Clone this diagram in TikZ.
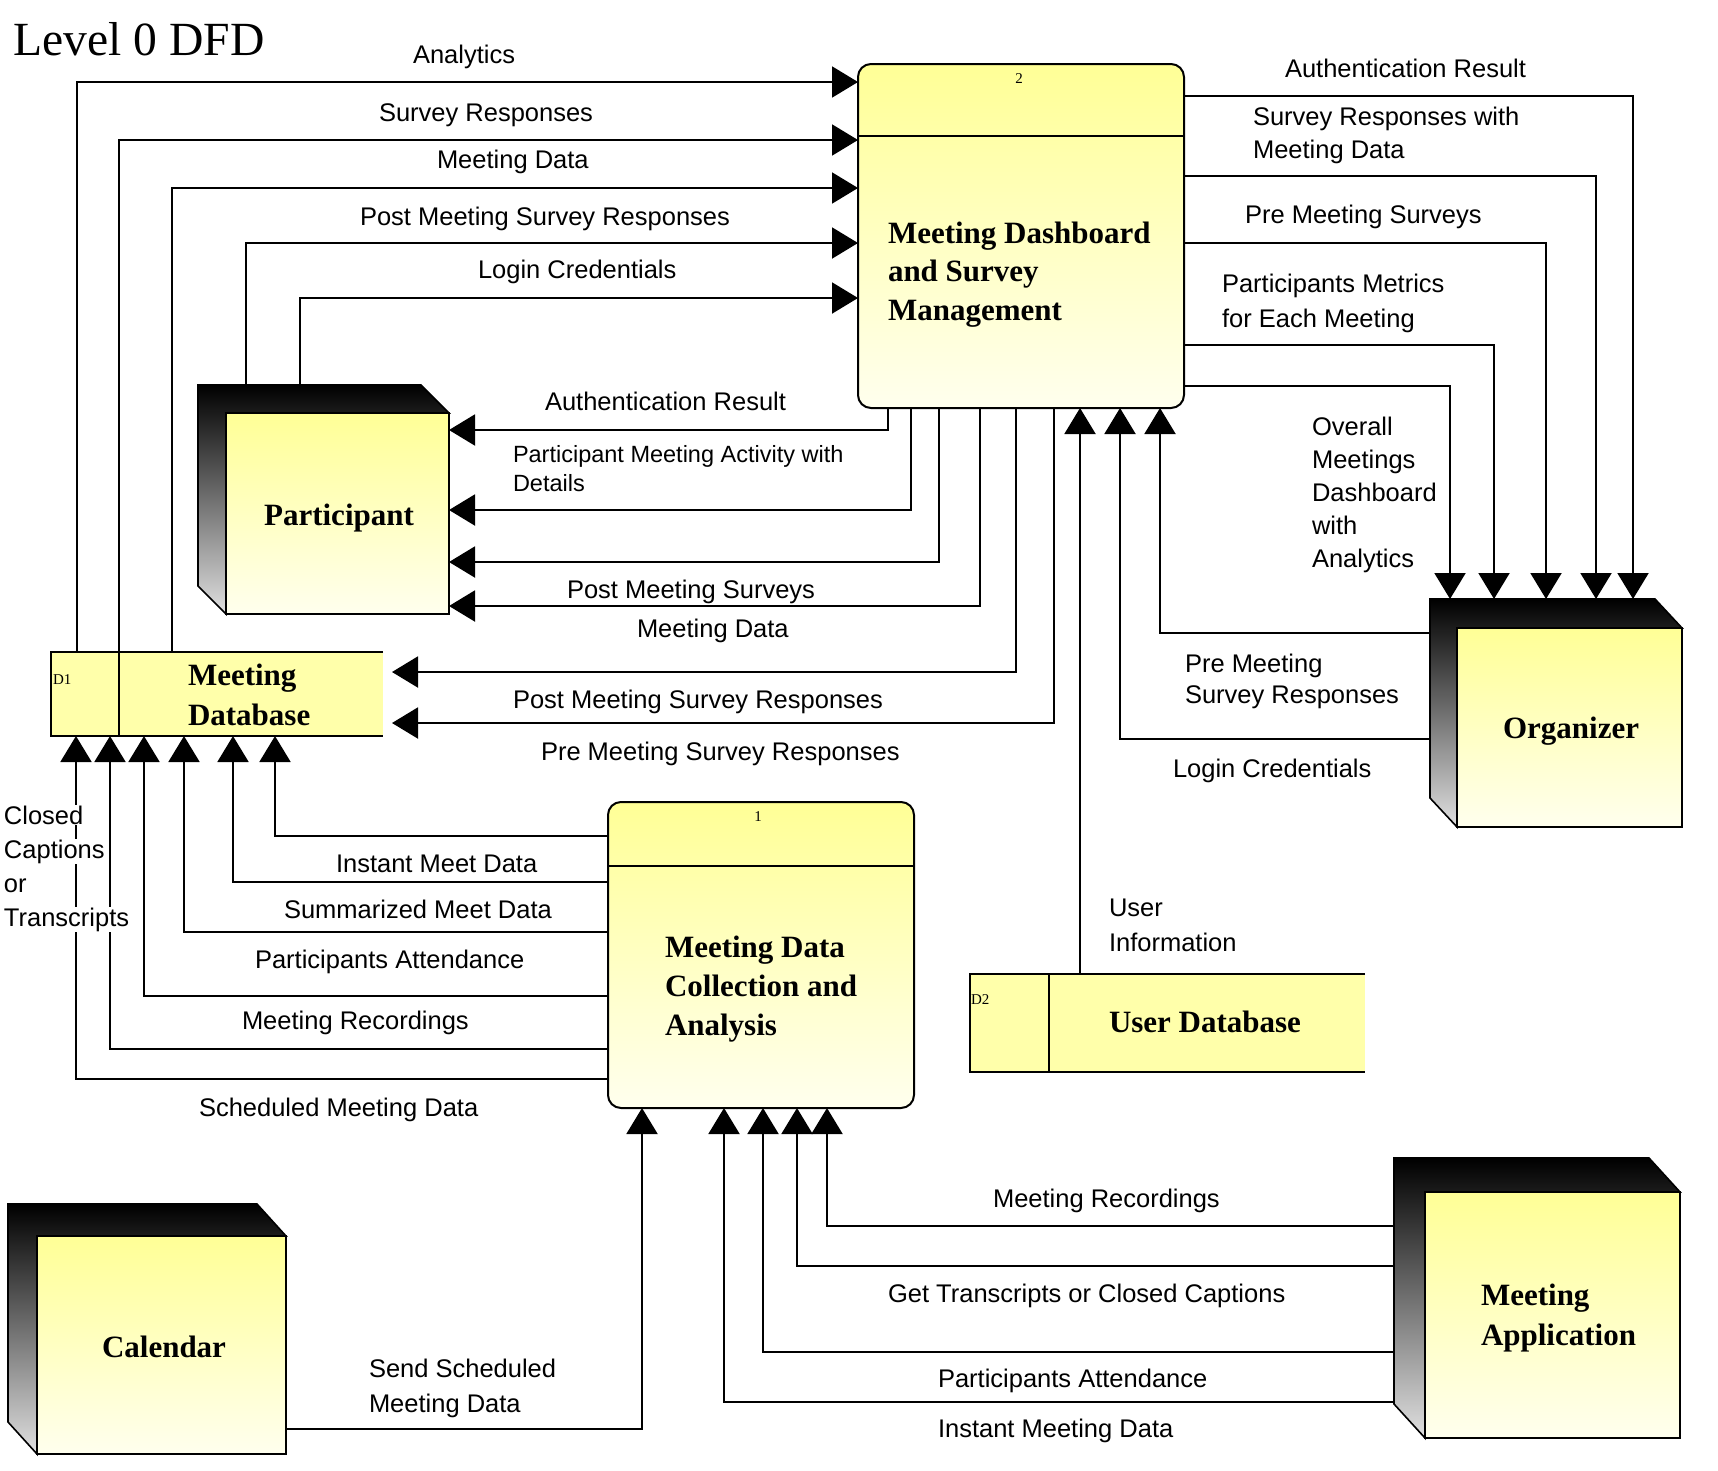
\documentclass[tikz,border=0pt]{standalone}
\usepackage{fontspec}
\setmainfont{Liberation Serif}
\newfontfamily\labfont{Liberation Sans}
\usetikzlibrary{arrows.meta,calc}
\definecolor{ytop}{RGB}{255,255,150}
\definecolor{ybot}{RGB}{255,255,238}
\definecolor{ystore}{RGB}{255,255,170}
\newcommand\mylst{\rule{0pt}{22pt}}
\newcommand\mynst{\rule{0pt}{25pt}}
\newcommand\wb[1]{{\setlength{\fboxsep}{1pt}\colorbox{white}{#1}}}
% #1 name, #2 back x, #3 back y, #4 face x, #5 face y, #6 right, #7 bottom
\newcommand\entity[7]{%
  \node[inner sep=0pt, outer sep=0pt, anchor=north west,
        minimum width={(#6)-(#2)}, minimum height={(#7)-(#3)}] (#1) at (#2,#3) {};
  \path[draw, line width=1.6pt, top color=black, bottom color=black!12]
    (#2,#3) -- ({#6-#4+#2},#3) -- (#6,#5) -- (#4,#5) -- (#4,#7) -- (#2,{#7-#5+#3}) -- cycle;
  \path[draw, line width=1.6pt, top color=ytop, bottom color=ybot] (#4,#5) rectangle (#6,#7);
}
\begin{document}
\begin{tikzpicture}[x=1pt,y=-1pt,
  flow/.style={line width=2pt, -{Triangle[length=26pt,width=31pt]}},
  edge2/.style={line width=2pt},
  lbl/.style={font=\labfont\fontsize{25.5}{#1}\selectfont, inner sep=0pt, outer sep=0pt, align=left},
  lbl/.default=33,
  lbls/.style={font=\labfont\fontsize{23.5}{29}\selectfont, inner sep=0pt, outer sep=0pt, align=left},
  nm/.style={font=\bfseries\fontsize{31}{#1}\selectfont, inner sep=0pt, outer sep=0pt, align=left},
  nm/.default=39,
  num/.style={font=\fontsize{15}{15}\selectfont, inner sep=0pt, outer sep=0pt},
  proc/.style={draw, line width=2pt, rounded corners=13pt, top color=ytop, bottom color=ybot,
               inner sep=0pt, outer sep=0pt, anchor=north west},
  store/.style={inner sep=0pt, outer sep=0pt, anchor=north west, fill=ystore},
]
\fill[white] (0,0) rectangle (1718,1470);
\useasboundingbox (0,0) rectangle (1718,1470);

% title
\node[font=\fontsize{47.6}{50}\selectfont, inner sep=0pt, anchor=base west] (title) at (13,55) {Level 0 DFD};

% process 2
\node[proc, minimum width=326pt, minimum height=344pt] (p2) at (858,64) {};
\draw[edge2] (p2.west |- 0,136) -- (p2.east |- 0,136);
\node[num, anchor=base] (p2n) at (1019,83) {2};
\node[nm=38.5, anchor=north west] (p2t) at (888,218) {\mynst Meeting Dashboard\\and Survey\\Management};

% process 1
\node[proc, minimum width=306pt, minimum height=306pt] (p1) at (608,802) {};
\draw[edge2] (p1.west |- 0,866) -- (p1.east |- 0,866);
\node[num, anchor=base] (p1n) at (758,821) {1};
\node[nm=39, anchor=north west] (p1t) at (665,932) {\mynst Meeting Data\\Collection and\\Analysis};

% data store D1
\node[store, minimum width=332pt, minimum height=84pt] (d1) at (51,652) {};
\draw[edge2] (d1.north east) -- (d1.north west) -- (d1.south west) -- (d1.south east);
\draw[edge2] (d1.north -| 119,0) -- (d1.south -| 119,0);
\node[num, anchor=base west] (d1n) at (53,684) {D1};
\node[nm=40, anchor=north west] (d1t) at (188,660) {\mynst Meeting\\Database};

% data store D2
\node[store, minimum width=395pt, minimum height=98pt] (d2) at (970,974) {};
\draw[edge2] (d2.north east) -- (d2.north west) -- (d2.south west) -- (d2.south east);
\draw[edge2] (d2.north -| 1049,0) -- (d2.south -| 1049,0);
\node[num, anchor=base west] (d2n) at (971,1004) {D2};
\node[nm, anchor=base west] (d2t) at (1109,1032) {User Database};

% external entities
\entity{part}{198}{385}{226}{413}{449}{614}
\entity{org}{1430}{599}{1457}{628}{1682}{827}
\entity{cal}{8}{1204}{37}{1236}{286}{1454}
\entity{app}{1394}{1158}{1425}{1192}{1680}{1438}
\node[nm, anchor=base] (partt) at (339,525) {Participant};
\node[nm, anchor=base] (orgt) at (1571,738) {Organizer};
\node[nm, anchor=base] (calt) at (164,1357) {Calendar};
\node[nm=40, anchor=north west] (appt) at (1481,1280) {\mynst Meeting\\Application};

% flows into process 2 (left)
\draw[flow] (d1.north -| 77,0) |- (p2.west |- 0,82);
\draw[flow] (d1.north -| 119,0) |- (p2.west |- 0,140);
\draw[flow] (d1.north -| 172,0) |- (p2.west |- 0,188);
\draw[flow] (part.north -| 246,0) |- (p2.west |- 0,243);
\draw[flow] (part.north -| 300,0) |- (p2.west |- 0,298);

% flows from process 2 to organizer
\draw[flow] (p2.east |- 0,96) -| (org.north -| 1633,0);
\draw[flow] (p2.east |- 0,176) -| (org.north -| 1596,0);
\draw[flow] (p2.east |- 0,243) -| (org.north -| 1546,0);
\draw[flow] (p2.east |- 0,345) -| (org.north -| 1494,0);
\draw[flow] (p2.east |- 0,386) -| (org.north -| 1450,0);

% flows into process 2 (bottom)
\draw[flow] (org.west |- 0,633) -| (p2.south -| 1160,0);
\draw[flow] (org.west |- 0,739) -| (p2.south -| 1120,0);
\draw[flow] (d2.north -| 1080,0) -- (p2.south -| 1080,0);

% flows from process 2 to participant and D1
\draw[flow] (p2.south -| 888,0) |- (part.east |- 0,430);
\draw[flow] (p2.south -| 911,0) |- (part.east |- 0,510);
\draw[flow] (p2.south -| 939,0) |- (part.east |- 0,562);
\draw[flow] (p2.south -| 980,0) |- (part.east |- 0,606);
\draw[flow] (p2.south -| 1016,0) |- ($(d1.east |- 0,672)+(9,0)$);
\draw[flow] (p2.south -| 1054,0) |- ($(d1.east |- 0,723)+(9,0)$);

% flows from process 1 to D1
\draw[flow] (p1.west |- 0,836) -| (d1.south -| 275,0);
\draw[flow] (p1.west |- 0,882) -| (d1.south -| 233,0);
\draw[flow] (p1.west |- 0,932) -| (d1.south -| 184,0);
\draw[flow] (p1.west |- 0,996) -| (d1.south -| 144,0);
\draw[flow] (p1.west |- 0,1049) -| (d1.south -| 110,0);
\draw[flow] (p1.west |- 0,1079) -| (d1.south -| 76,0);

% flows into process 1 (bottom)
\draw[flow] (cal.east |- 0,1429) -| (p1.south -| 642,0);
\draw[flow] (app.west |- 0,1226) -| (p1.south -| 827,0);
\draw[flow] (app.west |- 0,1266) -| (p1.south -| 797,0);
\draw[flow] (app.west |- 0,1352) -| (p1.south -| 763,0);
\draw[flow] (app.west |- 0,1402) -| (p1.south -| 724,0);

% labels
\node[lbl, anchor=base west] (lAn) at (413,63) {Analytics};
\node[lbl, anchor=base west] (lSR) at (379,121) {Survey Responses};
\node[lbl, anchor=base west] (lMDa) at (437,168) {Meeting Data};
\node[lbl, anchor=base west] (lPMSRa) at (360,225) {Post Meeting Survey Responses};
\node[lbl, anchor=base west] (lLCa) at (478,278) {Login Credentials};
\node[lbl, anchor=base west] (lARa) at (1285,77) {Authentication Result};
\node[lbl, anchor=north west] (lSRMD) at (1253,103) {\mylst Survey Responses with\\Meeting Data};
\node[lbl, anchor=base west] (lPMS) at (1245,223) {Pre Meeting Surveys};
\node[lbl=35, anchor=north west] (lPMEM) at (1222,270) {\mylst Participants Metrics\\for Each Meeting};
\node[lbl, anchor=north west] (lOMD) at (1312,413) {\mylst Overall\\Meetings\\Dashboard\\with\\Analytics};
\node[lbl=31, anchor=north west] (lPreMSRa) at (1185,650) {\mylst Pre Meeting\\Survey Responses};
\node[lbl, anchor=base west] (lLCb) at (1173,777) {Login Credentials};
\node[lbl=35, anchor=north west] (lUI) at (1109,894) {\mylst User\\Information};
\node[lbl, anchor=base west] (lARb) at (545,410) {Authentication Result};
\node[lbls, anchor=north west] (lPMAD) at (513,440) {\mylst Participant Meeting Activity with\\Details};
\node[lbl, anchor=base west] (lPMSv) at (567,598) {Post Meeting Surveys};
\node[lbl, anchor=base west] (lMDb) at (637,637) {Meeting Data};
\node[lbl, anchor=base west] (lPMSRb) at (513,708) {Post Meeting Survey Responses};
\node[lbl, anchor=base west] (lPreMSRb) at (541,760) {Pre Meeting Survey Responses};
\node[lbl, anchor=base west] (lIMD) at (336,872) {Instant Meet Data};
\node[lbl, anchor=base west] (lSMD) at (284,918) {Summarized Meet Data};
\node[lbl, anchor=base west] (lPAa) at (255,968) {Participants Attendance};
\node[lbl, anchor=base west] (lMRa) at (242,1029) {Meeting Recordings};
\node[lbl, anchor=base west] (lSchMD) at (199,1116) {Scheduled Meeting Data};
\node[lbl=34, anchor=north west] (lCC) at (3,802) {\mylst\wb{Closed}\\\wb{Captions}\\\wb{or}\\\wb{Transcripts}};
\node[lbl=35, anchor=north west] (lSSMD) at (369,1355) {\mylst Send Scheduled\\Meeting Data};
\node[lbl, anchor=base west] (lMRb) at (993,1207) {Meeting Recordings};
\node[lbl, anchor=base west] (lGT) at (888,1302) {Get Transcripts or Closed Captions};
\node[lbl, anchor=base west] (lPAb) at (938,1387) {Participants Attendance};
\node[lbl, anchor=base west] (lIMtD) at (938,1437) {Instant Meeting Data};
\end{tikzpicture}
\end{document}
